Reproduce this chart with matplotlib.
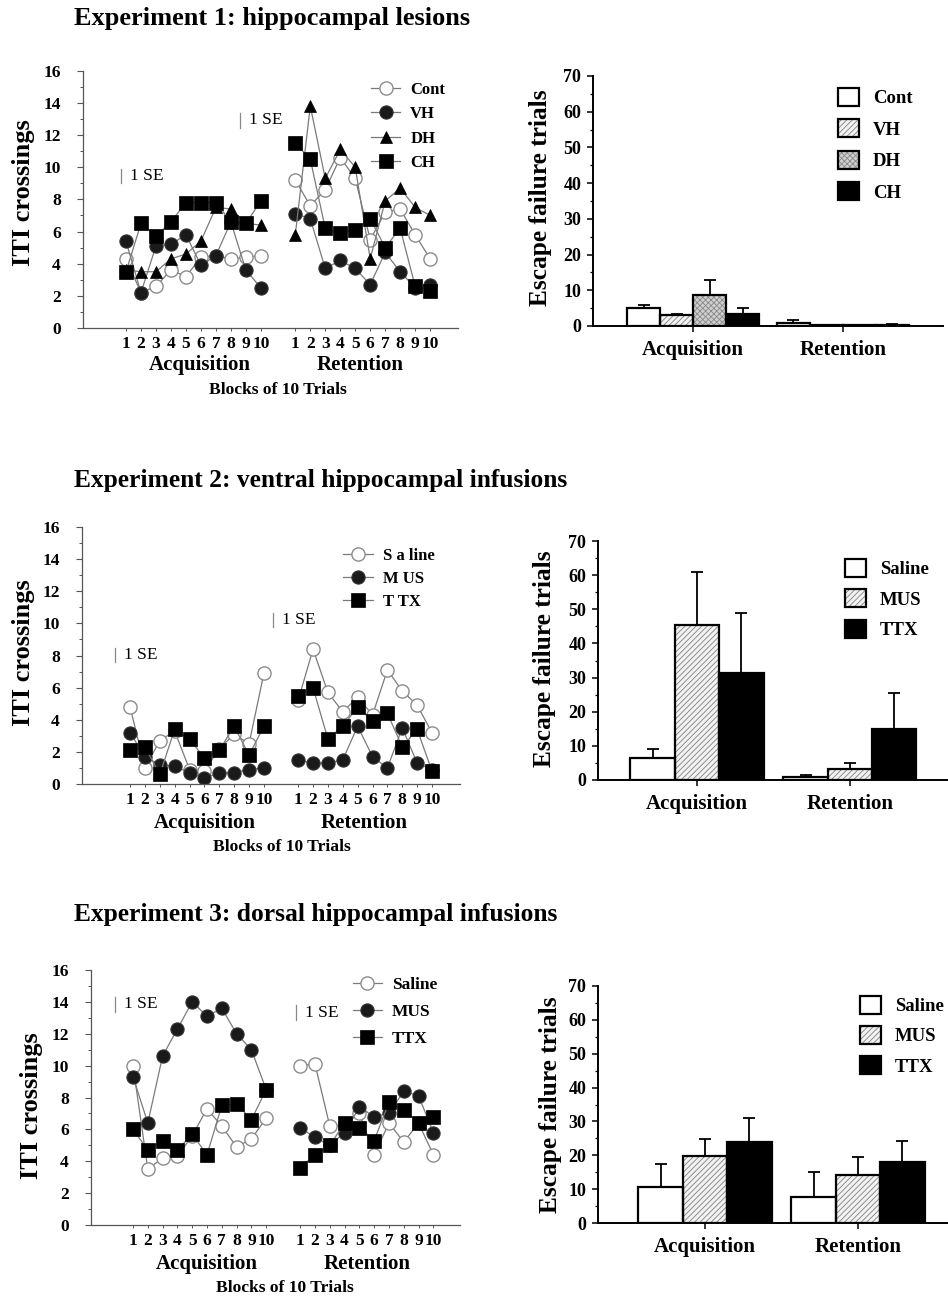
import matplotlib
matplotlib.use('Agg')
import matplotlib.pyplot as plt
from matplotlib.lines import Line2D
from matplotlib.legend_handler import HandlerTuple
from matplotlib.ticker import MultipleLocator
import numpy as np

W, H = 948, 1297
plt.rcParams['font.family'] = ['Liberation Serif', 'DejaVu Serif']
plt.rcParams['font.weight'] = 'bold'
plt.rcParams['hatch.linewidth'] = 0.6

# ---------------- data ----------------
blocks = list(range(1, 11))
block_labels = [str(b) for b in blocks]
phases = ['Acquisition', 'Retention']

titles = ['Experiment 1: hippocampal lesions',
          'Experiment 2: ventral hippocampal infusions',
          'Experiment 3: dorsal hippocampal infusions']

# Experiment 1 (ITI crossings)
exp1_groups = ['Cont', 'VH', 'DH', 'CH']
exp1_cont_acq = [4.3, 2.2, 2.6, 3.6, 3.2, 4.4, 4.5, 4.3, 4.4, 4.5]
exp1_vh_acq = [5.4, 2.2, 5.1, 5.2, 5.8, 3.9, 4.5, 6.6, 3.6, 2.5]
exp1_dh_acq = [3.6, 3.5, 3.5, 4.3, 4.6, 5.4, 7.5, 7.4, 6.5, 6.4]
exp1_ch_acq = [3.5, 6.5, 5.7, 6.6, 7.8, 7.8, 7.8, 6.6, 6.5, 7.9]
exp1_cont_ret = [9.2, 7.6, 8.6, 10.6, 9.3, 5.5, 7.2, 7.4, 5.8, 4.3]
exp1_vh_ret = [7.1, 6.8, 3.7, 4.2, 3.7, 2.7, 4.7, 3.5, 2.5, 2.7]
exp1_dh_ret = [5.8, 13.8, 9.3, 11.1, 10.0, 4.3, 7.9, 8.7, 7.5, 7.0]
exp1_ch_ret = [11.5, 10.5, 6.2, 5.9, 6.1, 6.8, 5.0, 6.2, 2.6, 2.3]

# Experiment 2 (ITI crossings)
exp2_groups = ['S a line', 'M US', 'T TX']
exp2_sal_acq = [4.8, 1.0, 2.7, 3.3, 0.9, 0.8, 2.2, 3.1, 2.5, 6.9]
exp2_mus_acq = [3.2, 1.7, 1.2, 1.1, 0.7, 0.35, 0.7, 0.7, 0.9, 1.0]
exp2_ttx_acq = [2.1, 2.3, 0.6, 3.4, 2.8, 1.6, 2.1, 3.6, 1.8, 3.6]
exp2_sal_ret = [5.2, 8.4, 5.7, 4.5, 5.4, 4.3, 7.1, 5.8, 4.9, 3.2]
exp2_mus_ret = [1.5, 1.3, 1.3, 1.5, 3.6, 1.7, 1.0, 3.5, 1.3, 0.9]
exp2_ttx_ret = [5.5, 6.0, 2.8, 3.6, 4.8, 3.9, 4.4, 2.3, 3.4, 0.8]

# Experiment 3 (ITI crossings)
exp3_groups = ['Saline', 'MUS', 'TTX']
exp3_sal_acq = [10.0, 3.5, 4.2, 4.3, 5.6, 7.3, 6.2, 4.9, 5.4, 6.7]
exp3_mus_acq = [9.3, 6.4, 10.6, 12.3, 14.0, 13.1, 13.6, 12.0, 11.0, 8.5]
exp3_ttx_acq = [6.0, 4.7, 5.3, 4.7, 5.7, 4.4, 7.5, 7.6, 6.6, 8.5]
exp3_sal_ret = [10.0, 10.1, 6.2, 6.3, 7.0, 4.4, 6.4, 5.2, 6.4, 4.4]
exp3_mus_ret = [6.1, 5.5, 5.0, 5.8, 7.4, 6.8, 7.0, 8.4, 8.1, 5.8]
exp3_ttx_ret = [3.6, 4.4, 5.0, 6.4, 6.1, 5.3, 7.7, 7.2, 6.4, 6.8]

# Escape failure trials (mean, SE)
bar1_groups = ['Cont', 'VH', 'DH', 'CH']
bar1_acq_mean = [5.0, 3.1, 8.6, 3.5]
bar1_acq_se = [0.9, 0.4, 4.3, 1.5]
bar1_ret_mean = [0.9, 0.3, 0.3, 0.4]
bar1_ret_se = [0.8, 0.0, 0.0, 0.3]

bar2_groups = ['Saline', 'MUS', 'TTX']
bar2_acq_mean = [6.4, 45.5, 31.4]
bar2_acq_se = [2.8, 15.4, 17.5]
bar2_ret_mean = [1.0, 3.1, 15.0]
bar2_ret_se = [0.5, 1.9, 10.6]

bar3_groups = ['Saline', 'MUS', 'TTX']
bar3_acq_mean = [10.6, 19.9, 23.8]
bar3_acq_se = [6.9, 4.9, 7.3]
bar3_ret_mean = [7.7, 14.1, 18.0]
bar3_ret_se = [7.4, 5.3, 6.3]

# ---------------- helpers ----------------
fig = plt.figure(figsize=(W / 100, H / 100), dpi=100)
fig.patch.set_facecolor('white')


def rect(l, t, r, b):
    return [l / W, 1 - b / H, (r - l) / W, (b - t) / H]


def fx(x):
    return x / W


def fy(y):
    return 1 - y / H


def ftext(x, y, s, **kw):
    fig.text(fx(x), fy(y), s, **kw)


acq_x = np.array(blocks, dtype=float)
ret_x = acq_x + 11.3

OPEN = dict(marker='o', mfc='white', mec='#8c8c8c', ms=9.5, mew=1.0)
FILL = dict(marker='o', mfc='#1a1a1a', mec='#333333', ms=9.5, mew=0.8)
TRI = dict(marker='^', mfc='black', mec='black', ms=8.5, mew=0.5)
SQR = dict(marker='s', mfc='black', mec='black', ms=10.5, mew=0.5)
LINE = dict(color='#7a7a7a', lw=0.9)


def style_leg_text(leg, fs):
    for t in leg.get_texts():
        t.set_fontweight('bold')
        t.set_fontsize(fs)


def line_panel(box, xlim, series, se_marks, leg_anchor, leg_spacing, leg_fs, leg_hl):
    ax = fig.add_axes(rect(*box))
    for label, acq, ret, mk in series:
        ax.plot(acq_x, acq, label=label, **LINE, **mk)
        ax.plot(ret_x, ret, **LINE, **mk)
    ax.set_xlim(*xlim)
    ax.set_ylim(0, 16)
    ax.set_yticks(np.arange(0, 17, 2))
    ax.yaxis.set_minor_locator(MultipleLocator(1))
    ax.set_xticks(np.concatenate([acq_x, ret_x]))
    ax.set_xticklabels(block_labels + block_labels)
    for s in ['top', 'right']:
        ax.spines[s].set_visible(False)
    for s in ['left', 'bottom']:
        ax.spines[s].set_color('#555555')
        ax.spines[s].set_linewidth(0.9)
    ax.tick_params(axis='y', which='major', direction='out', length=4,
                   width=0.8, color='#555555', labelsize=12.5, pad=12)
    ax.tick_params(axis='y', which='minor', direction='out', length=2.5,
                   width=0.7, color='#555555')
    ax.tick_params(axis='x', direction='out', length=2.5, width=0.7,
                   color='#555555', labelsize=12.5, pad=3)
    for lab in ax.get_xticklabels() + ax.get_yticklabels():
        lab.set_fontweight('bold')
    for (x, y1, y2, tx, ty) in se_marks:
        fig.add_artist(Line2D([fx(x), fx(x)], [fy(y1), fy(y2)],
                              transform=fig.transFigure, color='#888888', lw=0.9))
        ftext(tx, ty, '1 SE', fontsize=12.5, fontweight='normal', va='center', ha='left')
    handles, labels = ax.get_legend_handles_labels()
    leg = ax.legend(handles, labels, loc='upper left',
                    bbox_to_anchor=(fx(leg_anchor[0]), fy(leg_anchor[1])),
                    bbox_transform=fig.transFigure, frameon=False, borderpad=0,
                    borderaxespad=0, fontsize=leg_fs, handlelength=leg_hl,
                    handletextpad=0.6, labelspacing=leg_spacing)
    style_leg_text(leg, leg_fs)
    return ax


def bar_panel(box, xlim, groups, acq_m, acq_s, ret_m, ret_s, styles, width,
              leg_anchor, leg_spacing):
    ax = fig.add_axes(rect(*box))
    n = len(groups)
    centers = np.arange(2, dtype=float)
    handles = []
    for i, g in enumerate(groups):
        off = (i - (n - 1) / 2) * width
        xs = centers + off
        vals = np.array([acq_m[i], ret_m[i]])
        errs = np.array([acq_s[i], ret_s[i]])
        fc, hatch, hc = styles[i]
        b1 = ax.bar(xs, vals, width, color=fc, hatch=hatch, edgecolor=hc,
                    linewidth=0, zorder=2)
        b2 = ax.bar(xs, vals, width, facecolor='none', edgecolor='black',
                    linewidth=1.6, zorder=3)
        m = errs > 0
        ax.errorbar(xs[m], vals[m], yerr=[np.zeros(m.sum()), errs[m]], fmt='none',
                    ecolor='black', elinewidth=1.3, capsize=4, capthick=1.3, zorder=1)
        handles.append((b1, b2))
    ax.set_xlim(*xlim)
    ax.set_ylim(0, 70)
    ax.set_yticks(np.arange(0, 71, 10))
    ax.yaxis.set_minor_locator(MultipleLocator(5))
    ax.set_xticks(centers)
    ax.set_xticklabels(phases)
    for s in ['top', 'right']:
        ax.spines[s].set_visible(False)
    for s in ['left', 'bottom']:
        ax.spines[s].set_linewidth(1.4)
    ax.tick_params(axis='y', which='major', direction='out', length=4.5,
                   width=1.1, labelsize=13, pad=4)
    ax.tick_params(axis='y', which='minor', direction='out', length=2.5, width=0.9)
    ax.tick_params(axis='x', direction='out', length=4, width=1.1,
                   labelsize=15, pad=6)
    for lab in ax.get_xticklabels() + ax.get_yticklabels():
        lab.set_fontweight('bold')
    leg = ax.legend(handles, groups, handler_map={tuple: HandlerTuple(ndivide=1)},
                    loc='upper left', bbox_to_anchor=(fx(leg_anchor[0]), fy(leg_anchor[1])),
                    bbox_transform=fig.transFigure, frameon=False, borderpad=0,
                    borderaxespad=0, fontsize=13.5, handlelength=1.1, handleheight=1.1,
                    handletextpad=0.75, labelspacing=leg_spacing)
    style_leg_text(leg, 13.5)
    return ax


WHITE = ('white', None, 'black')
HATCH = ('#f2f2f2', '//////', '#808080')
DOTS = ('#cfcfcf', 'xxxxxx', '#8a8a8a')
BLACK = ('black', None, 'black')

# ---------------- titles ----------------
ftext(74, 18, titles[0], fontsize=19, va='center', ha='left')
ftext(74, 480, titles[1], fontsize=18.4, va='center', ha='left')
ftext(74, 914, titles[2], fontsize=18.4, va='center', ha='left')

# ---------------- Experiment 1 ----------------
line_panel((83, 70.7, 458, 328), (-1.87, 23.16),
           [(exp1_groups[0], exp1_cont_acq, exp1_cont_ret, OPEN),
            (exp1_groups[1], exp1_vh_acq, exp1_vh_ret, FILL),
            (exp1_groups[2], exp1_dh_acq, exp1_dh_ret, TRI),
            (exp1_groups[3], exp1_ch_acq, exp1_ch_ret, SQR)],
           [(121, 169, 183, 130, 176), (240, 113, 128, 249, 120)],
           (371, 82), 0.5, 12, 1.75)
ftext(24, 193, 'ITI crossings', fontsize=19, rotation=90, va='center', ha='center')
ftext(200, 365, phases[0], fontsize=15, va='center', ha='center')
ftext(360, 365, phases[1], fontsize=15, va='center', ha='center')
ftext(278, 390, 'Blocks of 10 Trials', fontsize=12.6, va='center', ha='center')

bar_panel((593, 76, 943, 326), (-0.667, 1.667), bar1_groups,
          bar1_acq_mean, bar1_acq_se, bar1_ret_mean, bar1_ret_se,
          [WHITE, HATCH, DOTS, BLACK], 0.22, (838, 88), 0.64)
ftext(541, 198, 'Escape failure trials', fontsize=18.3, rotation=90, va='center', ha='center')

# ---------------- Experiment 2 ----------------
line_panel((82, 527, 460, 784), (-2.23, 23.18),
           [(exp2_groups[0], exp2_sal_acq, exp2_sal_ret, OPEN),
            (exp2_groups[1], exp2_mus_acq, exp2_mus_ret, FILL),
            (exp2_groups[2], exp2_ttx_acq, exp2_ttx_ret, SQR)],
           [(115, 648, 662, 124, 655), (273, 613, 627, 282, 620)],
           (343, 548), 0.42, 12, 1.8)
ftext(24, 653, 'ITI crossings', fontsize=19, rotation=90, va='center', ha='center')
ftext(205, 823, phases[0], fontsize=15, va='center', ha='center')
ftext(364, 823, phases[1], fontsize=15, va='center', ha='center')
ftext(282, 847, 'Blocks of 10 Trials', fontsize=12.6, va='center', ha='center')

bar_panel((598, 541, 948, 780), (-0.647, 1.641), bar2_groups,
          bar2_acq_mean, bar2_acq_se, bar2_ret_mean, bar2_ret_se,
          [WHITE, HATCH, BLACK], 0.29, (845, 559), 0.58)
ftext(544, 659, 'Escape failure trials', fontsize=18.3, rotation=90, va='center', ha='center')

# ---------------- Experiment 3 ----------------
line_panel((91, 970, 460, 1225), (-1.84, 23.1),
           [(exp3_groups[0], exp3_sal_acq, exp3_sal_ret, OPEN),
            (exp3_groups[1], exp3_mus_acq, exp3_mus_ret, FILL),
            (exp3_groups[2], exp3_ttx_acq, exp3_ttx_ret, SQR)],
           [(115, 997, 1012, 124, 1004), (296, 1005, 1020, 305, 1013)],
           (353, 977), 0.62, 12.5, 1.65)
ftext(32, 1106, 'ITI crossings', fontsize=19, rotation=90, va='center', ha='center')
ftext(207, 1264, phases[0], fontsize=15, va='center', ha='center')
ftext(367, 1264, phases[1], fontsize=15, va='center', ha='center')
ftext(285, 1288, 'Blocks of 10 Trials', fontsize=12.6, va='center', ha='center')

bar_panel((598, 986, 948, 1223), (-0.699, 1.588), bar3_groups,
          bar3_acq_mean, bar3_acq_se, bar3_ret_mean, bar3_ret_se,
          [WHITE, HATCH, BLACK], 0.29, (860, 996), 0.57)
ftext(550, 1105, 'Escape failure trials', fontsize=18.3, rotation=90, va='center', ha='center')

fig.savefig('out.png', dpi=100, facecolor='white')
